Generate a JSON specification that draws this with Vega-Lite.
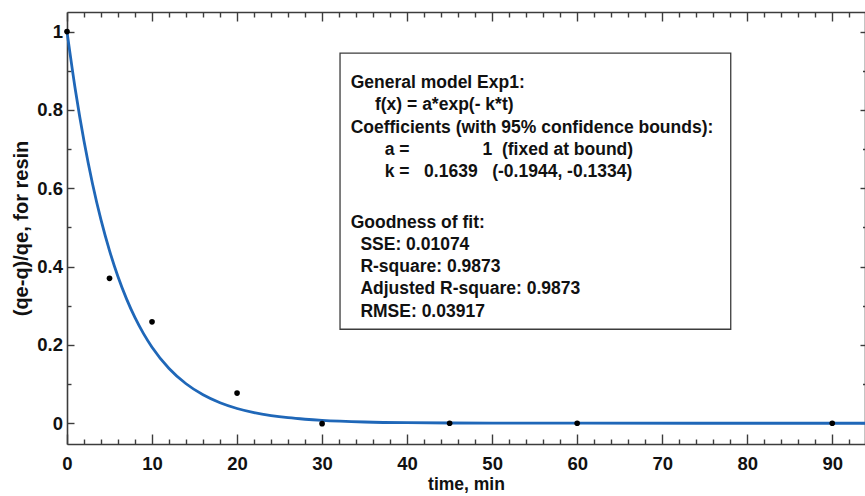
{
  "$schema": "https://vega.github.io/schema/vega-lite/v6.json",
  "width": 798,
  "height": 432,
  "autosize": {"type": "none"},
  "padding": {"left": 67, "top": 12, "right": 0, "bottom": 52},
  "background": "white",
  "config": {
    "view": {"stroke": null},
    "axis": {
      "grid": false,
      "domainColor": "#3c3c3c",
      "tickColor": "#3c3c3c",
      "domainWidth": 1.6,
      "tickWidth": 1.4,
      "labelFont": "Liberation Sans",
      "labelFontWeight": "bold",
      "labelFontSize": 18.5,
      "labelColor": "#111111",
      "titleColor": "#111111",
      "labelFlush": false
    }
  },
  "datasets": {
    "anno": [{"id": 1}],
    "obs": [
      {"t": 0, "r": 1.0},
      {"t": 5, "r": 0.37},
      {"t": 10, "r": 0.259},
      {"t": 20, "r": 0.077},
      {"t": 30, "r": -0.001},
      {"t": 45, "r": 0.0},
      {"t": 60, "r": 0.0},
      {"t": 90, "r": 0.0}
    ],
    "fit": [
      {"t": 0, "f": 1.0},
      {"t": 1, "f": 0.8488},
      {"t": 2, "f": 0.7205},
      {"t": 3, "f": 0.6116},
      {"t": 4, "f": 0.5191},
      {"t": 5, "f": 0.4407},
      {"t": 6, "f": 0.3740},
      {"t": 7, "f": 0.3175},
      {"t": 8, "f": 0.2695},
      {"t": 9, "f": 0.2288},
      {"t": 10, "f": 0.1942},
      {"t": 12, "f": 0.1399},
      {"t": 14, "f": 0.1008},
      {"t": 16, "f": 0.0726},
      {"t": 18, "f": 0.0523},
      {"t": 20, "f": 0.0377},
      {"t": 22, "f": 0.0272},
      {"t": 24, "f": 0.0196},
      {"t": 26, "f": 0.0141},
      {"t": 28, "f": 0.0102},
      {"t": 30, "f": 0.0073},
      {"t": 35, "f": 0.0032},
      {"t": 40, "f": 0.0014},
      {"t": 50, "f": 0.0003},
      {"t": 60, "f": 0.0001},
      {"t": 75, "f": 0.0},
      {"t": 93.85, "f": 0.0}
    ]
  },
  "layer": [
    {
      "data": {"name": "anno"},
      "mark": {"type": "rect", "fill": "white", "stroke": "#3c3c3c", "strokeWidth": 1.3},
      "encoding": {
        "x": {"datum": 32.11, "type": "quantitative", "axis": null, "scale": {"domain": [0, 93.85], "nice": false, "zero": false}},
        "x2": {"datum": 78.06},
        "y": {"datum": 0.9448, "type": "quantitative", "axis": null, "scale": {"domain": [-0.053, 1.05], "nice": false, "zero": false}},
        "y2": {"datum": 0.24}
      }
    },
    {
      "data": {"name": "anno"},
      "mark": {
        "type": "text",
        "text": [
          "General model Exp1:",
          "\u200b\u00a0\u00a0\u00a0\u00a0\u00a0f(x) = a*exp(- k*t)",
          "Coefficients (with 95% confidence bounds):",
          "\u200b\u00a0\u00a0\u00a0\u00a0\u00a0\u00a0\u00a0a =\u00a0\u00a0\u00a0\u00a0\u00a0\u00a0\u00a0\u00a0\u00a0\u00a0\u00a0\u00a0\u00a0\u00a0\u00a01\u00a0\u00a0(fixed at bound)",
          "\u200b\u00a0\u00a0\u00a0\u00a0\u00a0\u00a0\u00a0k =\u00a0\u00a0\u00a00.1639\u00a0\u00a0\u00a0(-0.1944, -0.1334)"
        ],
        "align": "left",
        "baseline": "alphabetic",
        "font": "Liberation Sans",
        "fontWeight": "bold",
        "fontSize": 17.5,
        "lineHeight": 22.3,
        "color": "#111111"
      },
      "encoding": {
        "x": {"datum": 33.36, "type": "quantitative", "axis": null},
        "y": {"datum": 0.8555, "type": "quantitative", "axis": null}
      }
    },
    {
      "data": {"name": "anno"},
      "mark": {
        "type": "text",
        "text": [
          "Goodness of fit:",
          "\u200b\u00a0\u00a0SSE: 0.01074",
          "\u200b\u00a0\u00a0R-square: 0.9873",
          "\u200b\u00a0\u00a0Adjusted R-square: 0.9873",
          "\u200b\u00a0\u00a0RMSE: 0.03917"
        ],
        "align": "left",
        "baseline": "alphabetic",
        "font": "Liberation Sans",
        "fontWeight": "bold",
        "fontSize": 17.5,
        "lineHeight": 22.1,
        "color": "#111111"
      },
      "encoding": {
        "x": {"datum": 33.36, "type": "quantitative", "axis": null},
        "y": {"datum": 0.498, "type": "quantitative", "axis": null}
      }
    },
    {
      "data": {"name": "fit"},
      "mark": {"type": "line", "color": "#1f67b8", "strokeWidth": 2.8, "interpolate": "monotone"},
      "encoding": {
        "x": {
          "field": "t", "type": "quantitative",
          "axis": {"orient": "bottom", "values": [2,4,6,8,12,14,16,18,22,24,26,28,32,34,36,38,42,44,46,48,52,54,56,58,62,64,66,68,72,74,76,78,82,84,86,88,92], "tickSize": -5, "labels": false, "domain": false, "title": null}
        },
        "y": {
          "field": "f", "type": "quantitative",
          "axis": {"orient": "left", "values": [0.1, 0.3, 0.5, 0.7, 0.9], "tickSize": -4, "labels": false, "domain": false, "title": null}
        }
      }
    },
    {
      "data": {"name": "obs"},
      "mark": {"type": "point", "filled": true, "color": "#000000", "size": 32, "opacity": 1},
      "encoding": {
        "x": {
          "field": "t", "type": "quantitative",
          "axis": {
            "orient": "bottom", "values": [0,10,20,30,40,50,60,70,80,90], "tickSize": -10, "labelPadding": 20, "format": "d",
            "title": "time, min", "titleFont": "Liberation Sans", "titleFontWeight": "bold", "titleFontSize": 17.5, "titlePadding": 3
          }
        },
        "y": {
          "field": "r", "type": "quantitative",
          "axis": {
            "orient": "left", "values": [0, 0.2, 0.4, 0.6, 0.8, 1], "tickSize": -7, "labelPadding": 11.5, "format": "~g",
            "title": "(qe-q)/qe, for resin", "titleFont": "Liberation Sans", "titleFontWeight": "bold", "titleFontSize": 20, "titlePadding": 5
          }
        }
      }
    },
    {
      "data": {"name": "obs"},
      "mark": {"type": "point", "opacity": 0},
      "encoding": {
        "x": {
          "field": "t", "type": "quantitative",
          "axis": {"orient": "top", "values": [0,10,20,30,40,50,60,70,80,90], "tickSize": -9, "labels": false, "title": null}
        },
        "y": {
          "field": "r", "type": "quantitative",
          "axis": {"orient": "right", "values": [0, 0.2, 0.4, 0.6, 0.8, 1], "tickSize": -5, "labels": false, "title": null}
        }
      }
    },
    {
      "data": {"name": "obs"},
      "mark": {"type": "point", "opacity": 0},
      "encoding": {
        "x": {
          "field": "t", "type": "quantitative",
          "axis": {"orient": "top", "values": [2,4,6,8,12,14,16,18,22,24,26,28,32,34,36,38,42,44,46,48,52,54,56,58,62,64,66,68,72,74,76,78,82,84,86,88,92], "tickSize": -5, "labels": false, "domain": false, "title": null}
        },
        "y": {
          "field": "r", "type": "quantitative",
          "axis": {"orient": "right", "values": [0.1, 0.3, 0.5, 0.7, 0.9], "tickSize": -2.5, "labels": false, "domain": false, "title": null}
        }
      }
    }
  ],
  "resolve": {"axis": {"x": "independent", "y": "independent"}}
}
